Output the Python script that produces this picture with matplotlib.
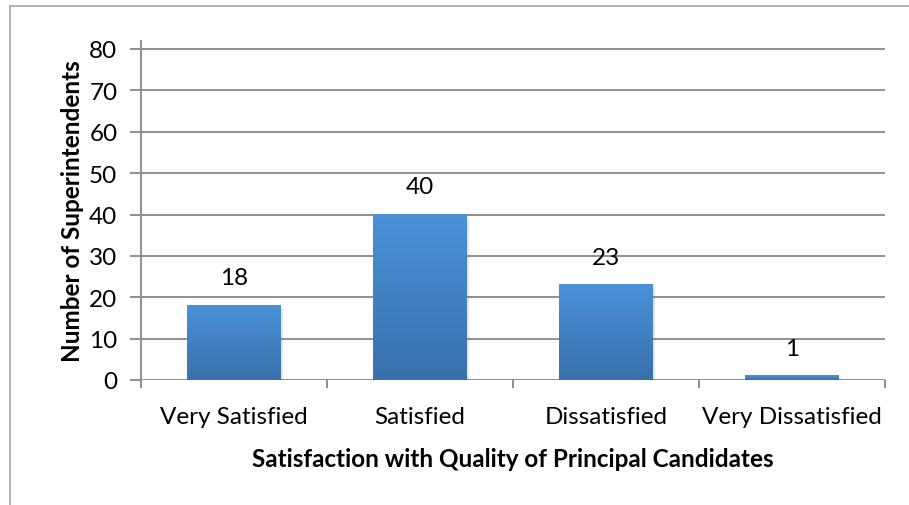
import matplotlib
matplotlib.use("Agg")
import matplotlib.pyplot as plt
import numpy as np
from matplotlib.colors import LinearSegmentedColormap
from matplotlib.lines import Line2D

categories = ["Very Satisfied", "Satisfied", "Dissatisfied", "Very Dissatisfied"]
values = [18, 40, 23, 1]
yticks = [0, 10, 20, 30, 40, 50, 60, 70, 80]

plt.rcParams['font.family'] = ['Lato', 'DejaVu Sans']

W, H = 909, 506
FS = 17.5
fig = plt.figure(figsize=(W/100, H/100), dpi=100)
ax = fig.add_axes([141/W, (H-381)/H, (885-141)/W, (381-42)/H])

x = np.arange(len(categories))
ymax = 80 + 8/((381-50)/80)

cmap = LinearSegmentedColormap.from_list("g", ["#3870ab", "#4a92d9"])
grad = np.linspace(0, 1, 256).reshape(-1, 1)
bw = 0.505
bars = ax.bar(x, values, width=bw, color="none", zorder=3)
for b, v in zip(bars, values):
    x0 = b.get_x()
    ax.add_patch(plt.Rectangle((x0+0.01, -0.5), bw, v, color="#000000", alpha=0.10, zorder=2.5, lw=0))
    ax.imshow(grad, cmap=cmap, aspect="auto", origin="lower",
              extent=[x0, x0+bw, 0, max(v, 0.6)], zorder=3)
ax.set_ylim(0, ymax)
ax.set_xlim(-0.5, len(categories)-0.5)
for xi, v in zip(x, values):
    ax.annotate(str(v), (xi, v), xytext=(0, 20), textcoords="offset points",
                ha="center", va="center", fontsize=FS, color="#000000")

for t in yticks:
    ax.axhline(t, color="#8f8f8f", lw=1.4, zorder=1)
ax.set_yticks(yticks)
ax.set_yticklabels([str(t) for t in yticks], fontsize=FS)
ax.set_xticks(np.arange(-0.5, len(categories), 1.0))
ax.set_xticklabels([])
ax.set_xticks(x, minor=True)
ax.set_xticklabels(categories, minor=True, fontsize=FS)
ax.tick_params(axis="x", which="minor", length=0, pad=19)
ax.tick_params(axis="x", which="major", length=6, width=1.4, color="#8f8f8f")
ax.tick_params(axis="y", length=8, width=1.4, color="#8f8f8f", pad=9)
for s in ["top", "right", "bottom"]:
    ax.spines[s].set_visible(False)
ax.spines["left"].set_color("#8f8f8f")
ax.spines["left"].set_linewidth(1.4)

ax.set_xlabel("Satisfaction with Quality of Principal Candidates", fontsize=FS,
              fontweight="bold", labelpad=14)
ax.set_ylabel("Number of Superintendents", fontsize=FS, fontweight="bold", labelpad=4)

fig.add_artist(Line2D([9.5/W, 9.5/W], [0, (H-7)/H], color="#a6a6a6", lw=1.2, transform=fig.transFigure))
fig.add_artist(Line2D([9.5/W, 1], [(H-7)/H, (H-7)/H], color="#a6a6a6", lw=1.2, transform=fig.transFigure))

fig.savefig("out.png", dpi=100, facecolor="white")
